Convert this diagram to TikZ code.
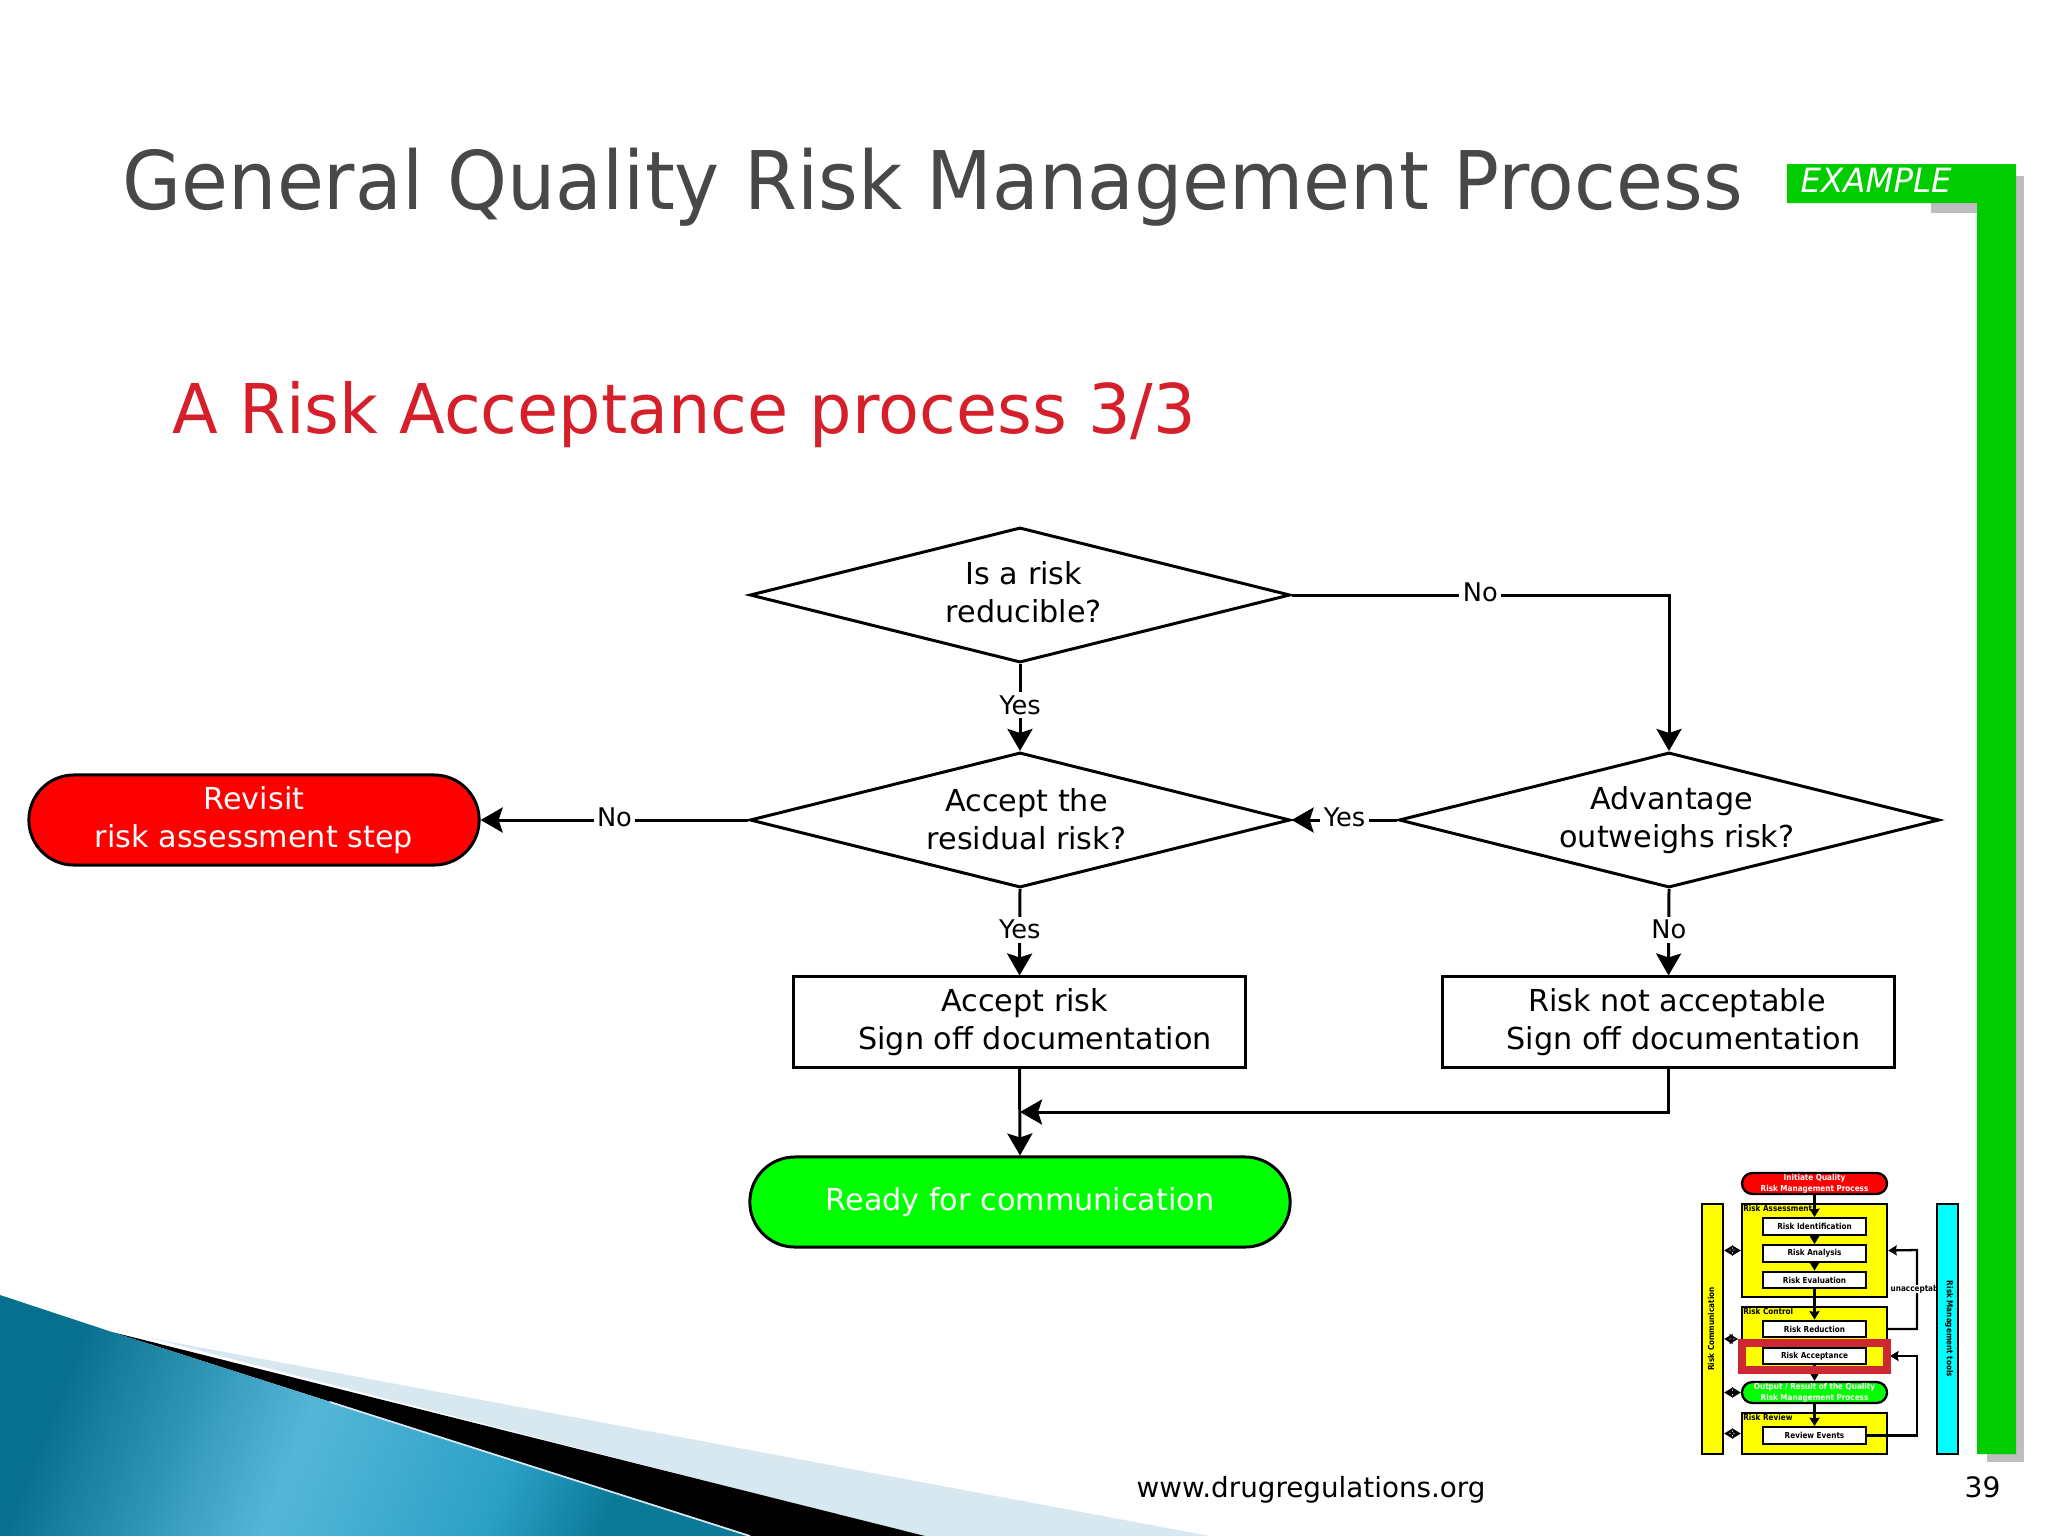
\documentclass[tikz,border=0pt]{standalone}
\usepackage{fontspec}
\setmainfont{DejaVu Sans}
\newfontfamily\titlefont[FakeStretch=0.943]{DejaVu Sans}
\newfontfamily\subfont[FakeStretch=0.975]{DejaVu Sans}
\newfontfamily\minifont[FakeStretch=0.88]{DejaVu Sans}
\usetikzlibrary{shapes.geometric,shapes.misc,arrows.meta,calc}
\definecolor{titlegrey}{HTML}{484848}
\definecolor{subred}{HTML}{D5202C}
\definecolor{framegreen}{RGB}{0,204,0}
\definecolor{framegrey}{RGB}{190,190,190}
\definecolor{palewedge}{HTML}{D8E8F1}
\definecolor{rampa}{HTML}{08708F}
\definecolor{rampb}{HTML}{55B7D8}
\definecolor{rampc}{HTML}{2BA0C6}
\definecolor{rampd}{HTML}{0B7A99}
\definecolor{redmark}{RGB}{205,40,50}
\definecolor{purecyan}{RGB}{0,255,255}
\definecolor{pureyellow}{RGB}{255,255,0}
\definecolor{purered}{RGB}{255,0,0}
\definecolor{puregreen}{RGB}{0,255,0}
\pgfdeclarehorizontalshading{wedgeramp}{100bp}{color(0bp)=(rampa); color(25bp)=(rampa); color(45bp)=(rampb); color(62bp)=(rampc); color(71bp)=(rampd); color(100bp)=(rampd)}
\newcommand{\tline}[2]{\makebox[0pt][c]{\hspace*{#1}#2}}
\newcommand{\mainsize}{\fontsize{8.6}{10.8}\selectfont}
\newcommand{\minisize}{\minifont\bfseries\fontsize{2.35}{3}\selectfont}
\tikzset{
  px/.style={x=0.01cm,y=-0.01cm},
  flowline/.style={line width=0.85pt,draw=black},
  flowarrow/.style={flowline,-{Stealth[length=2.2mm,width=2.5mm,inset=0.4mm]}},
  decision/.style={diamond,draw=black,line width=0.85pt,aspect=4,inner sep=0pt,minimum width=5.4cm,minimum height=1.35cm,align=center,font=\mainsize},
  pill/.style={rounded rectangle,draw=black,line width=0.85pt,inner sep=0pt,align=center,font=\mainsize,text=white,minimum height=0.9cm},
  actionbox/.style={rectangle,draw=black,line width=0.85pt,inner sep=0pt,minimum width=4.51cm,minimum height=0.9cm,align=center,font=\mainsize},
  edgelabel/.style={fill=white,inner sep=1pt,yshift=0.025cm,font=\fontsize{7.3}{9}\selectfont},
  miniline/.style={line width=0.65pt,draw=black},
  miniarrow/.style={miniline,-{Stealth[length=0.85mm,width=1mm,inset=0.1mm]}},
  minibi/.style={miniline,{Stealth[length=0.85mm,width=1mm,inset=0.1mm]}-{Stealth[length=0.85mm,width=1mm,inset=0.1mm]}},
  minibox/.style={rectangle,draw=black,line width=0.65pt,fill=white,inner sep=0pt,minimum width=1.03cm,minimum height=0.165cm,font=\minisize},
  minigroup/.style={rectangle,draw=black,line width=0.65pt,fill=pureyellow,inner sep=0pt},
  minipill/.style={rounded rectangle,draw=black,line width=0.65pt,inner sep=0pt,minimum width=1.45cm,minimum height=0.21cm,text=white,align=center,font=\minisize},
  minilabel/.style={inner sep=0pt,anchor=north west,yshift=-0.02cm,font=\minisize},
  minidot/.style={draw=black,line width=0.2pt,fill=white},
}
\begin{document}
\begin{tikzpicture}[px]
\useasboundingbox (0,0) rectangle (2048,1536);
% wedge
\fill[palewedge] (150,1338) -- (1210,1536) -- (920,1536) -- cycle;
\fill[black] (112,1332) -- (925,1536) -- (750,1536) -- cycle;
\shade[shading=wedgeramp,shading angle=-22] (0,1295) -- (112,1332) -- (750,1536) -- (0,1536) -- cycle;
\draw[palewedge,line width=0.5pt] (330,1402) -- (750,1536);
% frame
\fill[framegrey] (1931,176) rectangle (2024,213);
\fill[framegrey] (1987,176) rectangle (2024,1462);
\fill[framegreen] (1787,164) -- (2016,164) -- (2016,1454) -- (1977,1454) -- (1977,203) -- (1787,203) -- cycle;
\node[anchor=base west,inner sep=0pt,text=white,font=\itshape\fontsize{9.5}{11}\selectfont] (example) at (1800,192) {\scalebox{0.97}[1]{EXAMPLE}};
% headings
\node[anchor=base west,inner sep=0pt,text=titlegrey,font=\titlefont\fontsize{23}{27}\selectfont] (title) at (122,209) {General Quality Risk Management Process};
\node[anchor=base west,inner sep=0pt,text=subred,font=\subfont\fontsize{19.5}{24}\selectfont] (subtitle) at (172,433) {A Risk Acceptance process 3/3};
% flowchart
\node[decision] (reducible) at (1020,595) {\tline{2.2pt}{\raisebox{1.5pt}{Is a risk}}\\\tline{2.2pt}{\raisebox{1.5pt}{reducible?}}};
\node[decision] (residual) at (1020,820) {\tline{3.7pt}{\raisebox{0.4pt}{Accept the}}\\\tline{3.7pt}{\raisebox{0.4pt}{residual risk?}}};
\node[decision] (advantage) at (1669,820) {\tline{1.5pt}{Advantage}\\\tline{4.5pt}{outweighs risk?}};
\node[pill,fill=purered,minimum width=4.5cm] (revisit) at (254,820) {Revisit\\risk assessment step};
\node[actionbox] (accept) at (1019.5,1022) {\tline{3pt}{Accept risk}\\\tline{8.9pt}{Sign off documentation}};
\node[actionbox] (notaccept) at (1668.5,1022) {\tline{4.8pt}{Risk not acceptable}\\\tline{8.5pt}{Sign off documentation}};
\node[pill,fill=puregreen,minimum width=5.4cm] (ready) at (1020,1202) {Ready for communication};
\coordinate (merge) at (1020,1112);
\draw[flowarrow] (reducible.south) -- node[edgelabel]{Yes} (residual.north);
\draw[flowarrow] (reducible.east) -| node[edgelabel,pos=0.25]{No} (advantage.north);
\draw[flowarrow] (advantage.west) -- node[edgelabel]{Yes} (residual.east);
\draw[flowarrow] (residual.west) -- node[edgelabel]{No} (revisit.east);
\draw[flowarrow] (residual.south) -- node[edgelabel]{Yes} (accept.north);
\draw[flowarrow] (advantage.south) -- node[edgelabel]{No} (notaccept.north);
\draw[flowarrow] (accept.south) -- (ready.north);
\draw[flowarrow] (notaccept.south) |- (merge);
% footer
\node[anchor=base west,inner sep=0pt,font=\fontsize{7.9}{10}\selectfont] (site) at (1136,1497) {www.drugregulations.org};
\node[anchor=base west,inner sep=0pt,font=\fontsize{8}{10}\selectfont] (page) at (1964,1497) {39};
% thumbnail
\node[minigroup,minimum width=0.21cm,minimum height=2.5cm] (comm) at (1712.5,1329) {};
\node[rotate=90,inner sep=0pt,font=\minisize] (commtxt) at (1711,1329) {Risk Communication};
\node[minigroup,minimum width=1.45cm,minimum height=0.93cm] (assess) at (1814.5,1250.5) {};
\node[minigroup,minimum width=1.45cm,minimum height=0.66cm] (control) at (1814.5,1340) {};
\node[minigroup,minimum width=1.45cm,minimum height=0.41cm] (review) at (1814.5,1433.5) {};
\node[minipill,fill=purered] (initiate) at (1814.5,1183.5) {Initiate Quality\\Risk Management Process};
\node[minipill,fill=puregreen] (output) at (1814.5,1392.5) {Output / Result of the Quality\\Risk Management Process};
\node[minibox] (ident) at (1814.5,1226.5) {Risk Identification};
\node[minibox] (analysis) at (1814.5,1253.5) {Risk Analysis};
\node[minibox] (evalbox) at (1814.5,1280) {Risk Evaluation};
\node[minibox] (reduction) at (1814.5,1329) {Risk Reduction};
\node[minibox] (acceptance) at (1814.5,1356) {Risk Acceptance};
\node[minibox] (events) at (1814.5,1435.5) {Review Events};
\node[minilabel] (lassess) at (assess.north west) {\hspace*{0.5pt}Risk Assessment};
\node[minilabel] (lcontrol) at (control.north west) {\hspace*{0.5pt}Risk Control};
\node[minilabel] (lreview) at (review.north west) {\hspace*{0.5pt}Risk Review};
\draw[miniarrow] (initiate.south) -- (ident.north);
\draw[miniarrow] (ident.south) -- (analysis.north);
\draw[miniarrow] (analysis.south) -- (evalbox.north);
\draw[miniarrow] (evalbox.south) -- (reduction.north);
\draw[miniarrow] (acceptance.south) -- (output.north);
\draw[miniarrow] (output.south) -- (events.north);
\draw[miniarrow] (1887,1329) -- (1917,1329) -- (1917,1250) -- (assess.east);
\draw[miniarrow] (events.east) -- (1917,1435.5) -- (1917,1356) -- (1890,1356);
\node[anchor=west,inner sep=0pt,fill=white,font=\minisize] (unacc) at (1890,1289) {unacceptab};
\node[rectangle,draw=black,line width=0.65pt,fill=purecyan,inner sep=0pt,minimum width=0.21cm,minimum height=2.5cm] (tools) at (1947.5,1329) {};
\node[rotate=-90,inner sep=0pt,font=\minisize] (toolstxt) at (1949,1329) {Risk Management tools};
\draw[minibi] (comm.east |- assess.center) -- (assess.west);
\draw[minibi] (comm.east |- 0,1339) -- (1738,1339);
\draw[minibi] (comm.east |- output.center) -- (output.west);
\draw[minibi] (comm.east |- review.center) -- (review.west);
\foreach \yy in {1250,1339,1433.5} {
  \draw[minidot] (1730,\yy) circle (1.4);
  \draw[minidot] (1734,\yy) circle (1.4);
}
\draw[redmark,line width=2.28pt] (1742,1342.5) rectangle (1887,1370);
\end{tikzpicture}
\end{document}
